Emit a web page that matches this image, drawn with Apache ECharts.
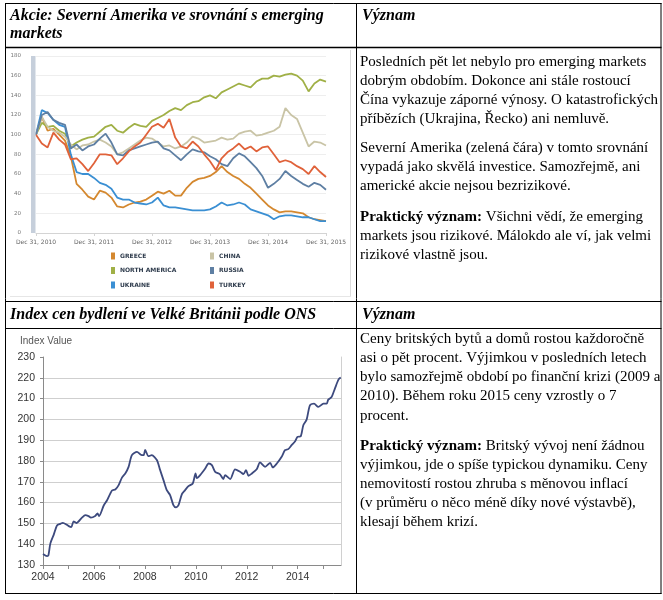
<!DOCTYPE html>
<html><head><meta charset="utf-8">
<script src="https://cdn.jsdelivr.net/npm/echarts@6/dist/echarts.min.js"></script>
<style>html,body{margin:0;padding:0;background:#fff}#c{width:663px;height:600px}</style>
</head><body><div id="c"></div>
<script>
// ---------- Chart 1: stock indices (Dec 31, 2010 = 100) ----------
const years1 = [2011.0,2011.1,2011.2,2011.3,2011.4,2011.5,2011.6,2011.7,2011.8,2011.9,
  2012.0,2012.1,2012.2,2012.3,2012.4,2012.5,2012.6,2012.7,2012.8,2012.9,
  2013.0,2013.1,2013.2,2013.3,2013.4,2013.5,2013.6,2013.7,2013.8,2013.9,
  2014.0,2014.1,2014.2,2014.3,2014.4,2014.5,2014.6,2014.7,2014.8,2014.9,
  2015.0,2015.1,2015.2,2015.3,2015.4,2015.5,2015.6,2015.7,2015.8,2015.9,2016.0];
const greece = [100,118,104,106,100,94,78,50,44,37, 34,43,41,36,27,26,29,31,32,34,
  38,42,40,43,38,38,46,52,55,56, 58,62,68,62,58,55,50,46,40,34, 28,24,21,22,22,21,20,16,14,13, 12];
const northAmerica = [100,112,108,109,104,101,88,92,95,97, 98,103,108,110,104,102,107,111,109,108,
  114,117,120,124,127,125,130,133,134,138, 140,137,143,146,149,152,150,148,154,157, 157,160,159,161,162,160,155,144,152,156, 154];
const ukraine = [100,125,122,115,110,108,80,62,60,60, 56,51,49,45,36,34,34,31,30,29,
  31,36,28,26,26,25,24,23,23,23, 24,27,31,28,29,31,29,24,22,20, 18,14,17,18,18,17,16,16,14,12, 12];
const china = [100,118,108,104,102,98,90,85,89,90, 93,95,92,88,80,82,86,90,94,97,
  96,92,88,89,86,88,92,98,96,92, 93,94,97,95,96,101,103,104,99,100, 102,104,108,127,120,116,102,88,93,92, 89];
const russia = [100,120,123,115,112,110,86,90,84,88, 90,96,101,92,80,79,84,86,88,90,
  92,93,86,84,79,74,80,85,83,82, 78,75,70,68,76,81,78,72,66,58, 46,50,55,63,58,54,50,47,51,49, 44];
const turkey = [100,91,87,102,95,90,75,76,70,63, 71,80,80,79,70,76,83,88,92,100,
  108,111,107,116,97,88,86,93,88,80, 73,64,76,82,86,91,85,88,83,87, 88,80,72,74,72,68,65,60,68,62, 57];
const seriesNames1 = ['GREECE','NORTH AMERICA','UKRAINE','CHINA','RUSSIA','TURKEY'];

// ---------- Chart 2: UK house price index (ONS) ----------
const ukYears = [2004.0,2004.16,2004.21,2004.29,2004.42,2004.55,2004.68,2004.78,2004.92,2005.01,2005.11,2005.2,2005.31,
  2005.53,2005.66,2005.79,2005.88,2006.05,2006.14,2006.2,2006.38,2006.51,2006.71,2006.84,2006.97,2007.1,2007.23,2007.36,
  2007.49,2007.69,2007.84,2007.95,2008.01,2008.14,2008.27,2008.47,2008.6,2008.73,2008.86,2008.99,2009.12,2009.22,2009.32,
  2009.45,2009.58,2009.71,2009.88,2009.99,2010.04,2010.17,2010.37,2010.5,2010.63,2010.76,2010.95,2011.08,2011.15,2011.35,
  2011.54,2011.74,2011.87,2011.97,2012.07,2012.2,2012.39,2012.52,2012.72,2012.92,2013.02,2013.18,2013.37,2013.5,2013.63,
  2013.76,2013.9,2013.99,2014.12,2014.22,2014.35,2014.48,2014.64,2014.81,2015.01,2015.14,2015.2,2015.33,2015.46,2015.6,2015.69];
const ukIndex = [135.3,134.3,134.5,140.4,144.5,149,149.8,150.3,149.5,148.7,148.2,151,150.2,
  152.8,154,153.5,152.8,153.6,154.8,153.5,158.5,161,165.8,166.3,168.4,172,174,177.2,
  182.8,184.4,183,182.8,185.3,182.3,182.8,180.5,175.6,170.8,166,163.6,158.8,157.7,158.8,
  164,166,167.9,169.2,174,171.8,173.2,176.4,178.8,178,174.8,173.6,171.3,173.2,171.3,
  176,174.8,173.7,175.6,172.9,174,176,179.3,177.2,179.1,176.9,178.8,182,185.2,185.7,
  187.6,189.5,191.6,191.9,197.2,199.9,206.8,207.6,206,207.6,207.6,209.5,210.8,214.8,219.1,220.1];
const ukLabelYears = [2004,2006,2008,2010,2012,2014];
const ukTickYears = [2004,2005,2006,2007,2008,2009,2010,2011,2012,2013,2014,2015];

// ---------- Texts ----------
const head1 = 'Akcie: Severní Amerika ve srovnání s emerging\nmarkets';
const head2 = 'Index cen bydlení ve Velké Británii podle ONS';
const headRight = 'Význam';
const r1p1 = ['Posledních pět let nebylo pro emerging markets','dobrým obdobím. Dokonce ani stále rostoucí',
  'Čína vykazuje záporné výnosy. O katastrofických','příbězích (Ukrajina, Řecko) ani nemluvě.'];
const r1p2 = ['Severní Amerika (zelená čára) v tomto srovnání','vypadá jako skvělá investice. Samozřejmě, ani',
  'americké akcie nejsou bezrizikové.'];
const r1p3 = ['{b|Praktický význam:} Všichni vědí, že emerging','markets jsou rizikové. Málokdo ale ví, jak velmi','rizikové vlastně jsou.'];
const r2p1 = ['Ceny britských bytů a domů rostou každoročně','asi o pět procent. Výjimkou v posledních letech',
  'bylo samozřejmě období po finanční krizi (2009 a','2010). Během roku 2015 ceny vzrostly o 7','procent.'];
const r2p2 = ['{b|Praktický význam:} Britský vývoj není žádnou','výjimkou, jde o spíše typickou dynamiku. Ceny',
  'nemovitostí rostou zhruba s měnovou inflací','(v průměru o něco méně díky nové výstavbě),','klesají během krizí.'];

const colors1 = ['#D4882F','#A0B046','#3A8FD3','#C9C4A6','#5E7FA3','#E0623A'];
const values1 = [greece, northAmerica, ukraine, china, russia, turkey];

const SERIF = '"Liberation Serif","Times New Roman",serif';
const SANS = '"Liberation Sans",Arial,sans-serif';
const SMALL = '"DejaVu Sans",Verdana,sans-serif';
const BODY = 15;

function para(x, y, lines, fs, lh) {
  return { type:'text', x:x, y:y, z:10, style:{
    text: lines.join('\n'), fontFamily: SERIF, fontSize: fs, lineHeight: lh, fill:'#000', verticalAlign:'top',
    rich: { b: { fontFamily: SERIF, fontSize: fs, fontWeight:'bold', lineHeight: lh, fill:'#000' } } } };
}
function hline(x1,x2,y,c,w){ return {type:'line', z:20, shape:{x1:x1,y1:y,x2:x2,y2:y}, style:{stroke:c||'#000', lineWidth:w||1}}; }
function vline(x,y1,y2,c,w){ return {type:'line', z:20, shape:{x1:x,y1:y1,x2:x,y2:y2}, style:{stroke:c||'#000', lineWidth:w||1}}; }

const graphics = [
  // table
  hline(5,661.5,3.5), hline(5,661.5,593.5), vline(5.5,3,594), vline(661,3,594), vline(356.5,3,594),
  hline(5,661.5,47.5,'#000',1.5), hline(5,661.5,301.5), hline(5,661.5,328.5),
  // chart 1 picture frame
  vline(350.5,50,297,'#dcdcdc'), hline(10,351,296.5,'#e6e6e6'),
  // chart 1 range bar
  {type:'rect', z:5, shape:{x:31,y:56,width:4.5,height:177}, style:{fill:'#C6CFDB'}},
  // headers
  { type:'text', x:10, y:7, style:{ text: head1, fontFamily: SERIF, fontSize:16, fontWeight:'bold', fontStyle:'italic', lineHeight:18, fill:'#000', verticalAlign:'top'} },
  { type:'text', x:362, y:7, style:{ text: headRight, fontFamily: SERIF, fontSize:16, fontWeight:'bold', fontStyle:'italic', lineHeight:18, fill:'#000', verticalAlign:'top'} },
  { type:'text', x:10, y:306, style:{ text: head2, fontFamily: SERIF, fontSize:16, fontWeight:'bold', fontStyle:'italic', lineHeight:18, fill:'#000', verticalAlign:'top'} },
  { type:'text', x:362, y:306, style:{ text: headRight, fontFamily: SERIF, fontSize:16, fontWeight:'bold', fontStyle:'italic', lineHeight:18, fill:'#000', verticalAlign:'top'} },
  // paragraphs
  para(360, 52, r1p1, BODY, 19.3), para(360, 138, r1p2, BODY, 19.3), para(360, 207, r1p3, BODY, 19.3),
  para(360, 329.7, r2p1, BODY, 19.1), para(360, 436.5, r2p2, BODY, 19.1),
  // chart 2 axis title
  { type:'text', x:20, y:341, style:{ text:'Index Value', fontFamily: SANS, fontSize:10, fill:'#555', verticalAlign:'middle'} }
];

const series = values1.map((vals, i) => ({
  name: seriesNames1[i], type:'line', xAxisIndex:0, yAxisIndex:0, showSymbol:false, silent:true,
  data: years1.map((t, k) => [t, vals[k]]), lineStyle:{ color: colors1[i], width:1.8 }, itemStyle:{ color: colors1[i] }
}));
series.push({ name:'UK HPI', type:'line', xAxisIndex:1, yAxisIndex:1, showSymbol:false, silent:true, smooth:0.25,
  data: ukYears.map((t,k)=>[t, ukIndex[k]]), lineStyle:{ color:'#3D4A7E', width:1.8 }, itemStyle:{color:'#3D4A7E'} });

const legendCommon = { orient:'vertical', icon:'rect', itemWidth:4, itemHeight:7, itemGap:7.5,
  textStyle:{ fontFamily: SMALL, fontSize:6, fontWeight:'bold', color:'#2E3B4C' }, selectedMode:false };

const option = {
  backgroundColor:'#fff',
  animation:false,
  graphic: graphics,
  legend: [
    Object.assign({ left:106, top:247.5, data: seriesNames1.slice(0,3) }, legendCommon),
    Object.assign({ left:205, top:247.5, data: seriesNames1.slice(3,6) }, legendCommon)
  ],
  grid: [
    { left:36, right:337, top:56, bottom:367 },
    { left:43, right:322, top:357, bottom:35 }
  ],
  xAxis: [
    { type:'value', gridIndex:0, min:2011, max:2016, interval:1,
      axisLine:{ lineStyle:{ color:'#d4d4d4' } }, axisTick:{ show:true, length:3, lineStyle:{ color:'#d4d4d4' } },
      axisLabel:{ fontFamily: SMALL, fontSize:6, color:'#666', margin:6, formatter: v => 'Dec 31, ' + (v - 1) },
      splitLine:{ show:false } },
    { type:'value', gridIndex:1, min:2004, max:2015.7,
      axisLine:{ lineStyle:{ color:'#8a8a8a' } },
      axisTick:{ show:true, length:4, customValues: ukTickYears, lineStyle:{ color:'#8a8a8a' } },
      axisLabel:{ fontFamily: SANS, fontSize:10.5, color:'#333', margin:7, customValues: ukLabelYears, formatter: v => String(v) },
      splitLine:{ show:false } }
  ],
  yAxis: [
    { type:'value', gridIndex:0, min:0, max:180, interval:20,
      axisLine:{ show:false }, axisTick:{ show:false },
      axisLabel:{ fontFamily: SMALL, fontSize:5.5, color:'#777', margin:15 },
      splitLine:{ lineStyle:{ color:'#eeeeee' } } },
    { type:'value', gridIndex:1, min:130, max:230, interval:10,
      axisLine:{ show:true, lineStyle:{ color:'#8a8a8a' } }, axisTick:{ show:true, length:3, lineStyle:{ color:'#8a8a8a' } },
      axisLabel:{ fontFamily: SANS, fontSize:10.5, color:'#333', margin:8 },
      splitLine:{ show:true, showMaxLine:false, lineStyle:{ color:'#cfcfcf' } } },
    { type:'value', gridIndex:1, position:'right', min:130, max:230,
      axisLine:{ show:true, lineStyle:{ color:'#d0d0d0' } }, axisTick:{ show:false }, axisLabel:{ show:false }, splitLine:{ show:false } }
  ],
  series: series
};
const chart = echarts.init(document.getElementById('c'));
chart.setOption(option);
</script></body></html>
